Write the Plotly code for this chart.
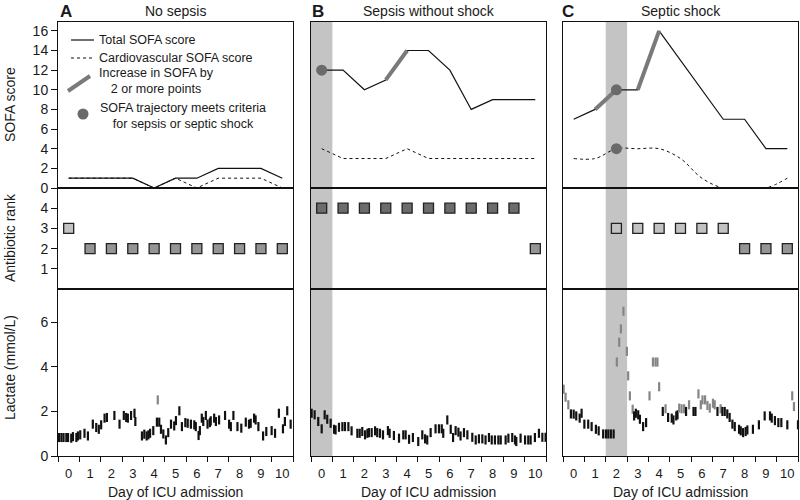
import plotly.graph_objects as go

# ---------------- data ----------------
days = list(range(11))
day_labels = [str(d) for d in days]
panel_titles = ["No sepsis", "Sepsis without shock", "Septic shock"]
panel_letters = ["A", "B", "C"]

sofa_total_A = [1, 1, 1, 1, 0, 1, 1, 2, 2, 2, 1]
sofa_cardio_A = [1, 1, 1, 1, 0, 1, 0, 1, 1, 1, 0]
sofa_total_B = [12, 12, 10, 11, 14, 14, 12, 8, 9, 9, 9]
sofa_cardio_B = [4, 3, 3, 3, 4, 3, 3, 3, 3, 3, 3]
sofa_total_C = [7, 8, 10, 10, 16, 13, 10, 7, 7, 4, 4]
sofa_cardio_C = [3, 3, 4, 4, 4, 3, 1, 0, 0, 0, 1]

increase_A = []
increase_B = [(3, 4)]
increase_C = [(1, 2), (3, 4)]
criteria_days_A = []
criteria_days_B = [0]
criteria_days_C = [2]
criteria_cardio_C = [2]
shade_days = [None, 0, 2]

abx_A = [3, 2, 2, 2, 2, 2, 2, 2, 2, 2, 2]
abx_B = [4, 4, 4, 4, 4, 4, 4, 4, 4, 4, 2]
abx_C = [None, None, 3, 3, 3, 3, 3, 3, 2, 2, 2]

lac_t_A = [0.05, 0.16, 0.26, 0.39, 0.47, 0.62, 0.70, 0.86, 0.93, 1.04, 1.24, 1.40, 1.63, 1.79, 1.91,
           2.02, 2.18, 2.29, 2.64, 2.88, 3.08, 3.19, 3.27, 3.42, 3.58, 3.62, 3.93, 4.04, 4.15, 4.23,
           4.31, 4.46, 4.63, 4.67, 4.74, 4.82, 4.93, 5.05, 5.16, 5.29, 5.44, 5.52, 5.68, 5.80, 5.96,
           6.07, 6.22, 6.38, 6.45, 6.58, 6.64, 6.73, 6.80, 6.92, 7.00, 7.11, 7.15, 7.31, 7.39, 7.54,
           7.82, 8.01, 8.09, 8.21, 8.40, 8.58, 8.79, 8.94, 9.02, 9.18, 9.25, 9.38, 9.60, 9.75, 10.00,
           10.16, 10.34, 10.53, 10.62, 10.73, 10.89]
lac_v_A = [0.83, 0.83, 0.83, 0.83, 0.83, 0.80, 0.87, 0.83, 0.90, 0.95, 1.02, 0.90, 1.43, 1.28, 1.20,
           1.40, 1.70, 1.73, 1.82, 1.43, 1.82, 1.73, 1.70, 1.82, 1.92, 1.55, 0.90, 0.98, 0.90, 0.95,
           1.02, 1.14, 1.52, 2.52, 1.52, 1.20, 0.99, 0.72, 1.05, 1.43, 1.35, 1.59, 2.03, 1.32, 1.50,
           1.47, 1.43, 1.40, 1.32, 0.92, 1.14, 1.70, 1.55, 1.82, 1.43, 1.50, 1.58, 1.70, 1.55, 1.62,
           1.82, 1.43, 1.32, 1.82, 1.32, 1.25, 1.52, 1.43, 1.47, 1.70, 1.62, 1.32, 0.90, 1.10, 1.14,
           1.02, 1.92, 1.22, 1.55, 2.03, 1.43]
lac_gray_A = [0] * 33 + [1] + [0] * 47

lac_t_B = [0.03, 0.17, 0.34, 0.50, 0.64, 0.76, 0.92, 1.08, 1.15, 1.31, 1.47, 1.59, 1.75, 1.90, 2.17,
           2.28, 2.40, 2.53, 2.64, 2.71, 2.84, 3.00, 3.10, 3.23, 3.37, 3.60, 3.68, 3.88, 4.12, 4.32,
           4.43, 4.59, 4.77, 5.02, 5.21, 5.34, 5.44, 5.60, 5.83, 5.99, 6.12, 6.19, 6.38, 6.54, 6.65,
           6.77, 6.90, 7.00, 7.16, 7.32, 7.55, 7.71, 7.86, 8.02, 8.17, 8.33, 8.46, 8.61, 8.77, 8.88,
           9.11, 9.24, 9.42, 9.55, 9.61, 9.81, 10.02, 10.17, 10.28, 10.48, 10.67, 10.83, 10.98]
lac_v_B = [1.92, 1.85, 1.55, 1.22, 1.85, 1.65, 1.47, 1.20, 1.17, 1.29, 1.32, 1.32, 1.32, 1.13, 1.02,
           1.02, 1.10, 0.95, 1.02, 1.05, 1.05, 1.13, 1.05, 1.02, 0.95, 1.14, 1.02, 0.92, 0.80, 0.95,
           0.95, 0.75, 0.83, 0.65, 0.95, 0.77, 0.72, 1.05, 1.22, 1.22, 1.22, 1.02, 1.62, 1.20, 0.83,
           1.14, 1.07, 0.90, 1.05, 0.95, 0.84, 0.72, 0.77, 0.77, 0.72, 0.83, 0.72, 0.72, 0.72, 0.72,
           0.72, 0.80, 0.83, 0.72, 0.65, 0.80, 0.72, 0.72, 0.72, 0.83, 1.02, 0.84, 0.84]
lac_gray_B = [0] * 73

lac_t_C = [0.03, 0.12, 0.25, 0.37, 0.50, 0.62, 0.78, 0.87, 1.00, 1.18, 1.34, 1.54, 1.67, 1.88, 2.01,
           2.12, 2.24, 2.37, 2.52, 2.63, 2.71, 2.83, 2.99, 3.05, 3.13, 3.26, 3.33, 3.41, 3.52, 3.60,
           3.75, 3.89, 4.05, 4.21, 4.33, 4.42, 4.50, 4.67, 4.80, 4.92, 5.09, 5.17, 5.30, 5.36, 5.44,
           5.55, 5.67, 5.76, 5.90, 6.11, 6.20, 6.34, 6.45, 6.53, 6.65, 6.76, 6.87, 7.02, 7.10, 7.23,
           7.38, 7.46, 7.57, 7.69, 7.80, 7.93, 8.04, 8.24, 8.32, 8.43, 8.55, 8.63, 8.89, 9.17, 9.44,
           9.69, 9.77, 9.92, 10.08, 10.22, 10.50, 10.73, 10.81, 11.00]
lac_v_C = [3.00, 2.64, 2.30, 1.89, 1.88, 1.80, 1.70, 1.92, 1.43, 1.43, 1.32, 1.20, 1.13, 0.99, 0.99,
           0.99, 0.99, 0.99, 4.22, 5.11, 5.71, 6.50, 4.70, 3.60, 2.70, 2.10, 1.80, 1.92, 1.85, 1.65,
           1.32, 1.50, 2.70, 4.22, 4.22, 4.22, 3.11, 2.00, 2.12, 1.73, 1.70, 1.62, 1.80, 1.85, 2.15,
           2.12, 2.12, 2.00, 2.30, 2.00, 2.00, 2.79, 2.30, 2.52, 2.52, 2.27, 2.15, 2.37, 2.30, 2.00,
           2.12, 2.00, 2.00, 1.89, 1.73, 1.43, 1.32, 1.20, 1.13, 1.05, 1.10, 1.17, 1.20, 1.40, 1.80,
           1.80, 1.70, 1.59, 1.50, 1.50, 1.40, 2.70, 2.22, 1.40]
lac_gray_C = [1, 1, 1, 0, 0, 0, 0, 0, 0, 0, 0, 0, 0, 0, 0,
              0, 0, 0, 1, 1, 1, 1, 1, 1, 1, 1, 0, 0, 0, 0,
              0, 0, 1, 1, 1, 1, 1, 0, 1, 0, 0, 0, 0, 0, 1,
              1, 1, 0, 1, 0, 0, 1, 1, 1, 1, 1, 1, 1, 1, 0,
              1, 0, 0, 0, 0, 0, 0, 0, 0, 0, 0, 0, 0, 0, 0,
              0, 0, 0, 0, 0, 0, 1, 1, 0]

sofa_ticks = [0, 2, 4, 6, 8, 10, 12, 14, 16]
abx_ticks = [1, 2, 3, 4]
lac_ticks = [0, 2, 4, 6]

# ---------------- styling ----------------
FONT = "Liberation Sans, Arial, sans-serif"
TXT = "#1a1a1a"
W, H = 800, 500
col_px = [(58, 293), (311, 546), (563, 798)]
row_px = [(22, 188), (188, 289), (289, 456)]
GRAY_LINE = "#7a7a7a"
DOT = "#6a6a6a"
ABX_COL = {2: "#959595", 3: "#c2c2c2", 4: "#6c6c6c"}

def px(x):
    return x / W

def py(y):
    return 1 - y / H

fig = go.Figure()

totals = [sofa_total_A, sofa_total_B, sofa_total_C]
cardios = [sofa_cardio_A, sofa_cardio_B, sofa_cardio_C]
increases = [increase_A, increase_B, increase_C]
crit = [criteria_days_A, criteria_days_B, criteria_days_C]
crit_cardio = [[], [], criteria_cardio_C]
abxs = [abx_A, abx_B, abx_C]
lac_t = [lac_t_A, lac_t_B, lac_t_C]
lac_v = [lac_v_A, lac_v_B, lac_v_C]
lac_g = [lac_gray_A, lac_gray_B, lac_gray_C]

xc = [d + 0.5 for d in days]


def ax(i):
    return ("x" if i == 1 else f"x{i}"), ("y" if i == 1 else f"y{i}")


for c in range(3):
    ia = c + 1          # sofa
    ib = c + 4          # antibiotic
    il = c + 7          # lactate
    xa, ya = ax(ia)
    fig.add_trace(go.Scatter(x=xc, y=cardios[c], mode="lines", xaxis=xa, yaxis=ya,
                             line=dict(color="#111", width=1, dash="3px,3px",
                                       shape="spline" if c == 2 else "linear"),
                             hoverinfo="skip", showlegend=False))
    fig.add_trace(go.Scatter(x=xc, y=totals[c], mode="lines", xaxis=xa, yaxis=ya,
                             line=dict(color="#111", width=1.2),
                             hoverinfo="skip", showlegend=False))
    for (d0, d1) in increases[c]:
        fig.add_trace(go.Scatter(x=[d0 + 0.5, d1 + 0.5], y=[totals[c][d0], totals[c][d1]],
                                 mode="lines", xaxis=xa, yaxis=ya,
                                 line=dict(color=GRAY_LINE, width=4),
                                 hoverinfo="skip", showlegend=False))
    pts_x = [d + 0.5 for d in crit[c]] + [d + 0.5 for d in crit_cardio[c]]
    pts_y = [totals[c][d] for d in crit[c]] + [cardios[c][d] for d in crit_cardio[c]]
    if pts_x:
        fig.add_trace(go.Scatter(x=pts_x, y=pts_y, mode="markers", xaxis=xa, yaxis=ya,
                                 marker=dict(color=DOT, size=11, line=dict(width=0)),
                                 cliponaxis=False, hoverinfo="skip", showlegend=False))
    # antibiotics
    xb, yb = ax(ib)
    ax_x = [d + 0.5 for d, r in zip(days, abxs[c]) if r is not None]
    ax_y = [r for r in abxs[c] if r is not None]
    fig.add_trace(go.Scatter(x=ax_x, y=ax_y, mode="markers", xaxis=xb, yaxis=yb,
                             marker=dict(symbol="square", size=10,
                                         color=[ABX_COL[r] for r in ax_y],
                                         line=dict(color="#222", width=1.3)),
                             hoverinfo="skip", showlegend=False))
    # lactate
    xl, yl = ax(il)
    cols = ["#858585" if g else "#111111" for g in lac_g[c]]
    fig.add_trace(go.Scatter(x=lac_t[c], y=lac_v[c], mode="markers", xaxis=xl, yaxis=yl,
                             marker=dict(symbol="line-ns", size=6.5,
                                         line=dict(color=cols, width=2.2)),
                             cliponaxis=False, hoverinfo="skip", showlegend=False))

layout = dict(width=W, height=H, margin=dict(l=0, r=0, t=0, b=0, autoexpand=False),
              template="none",
              paper_bgcolor="white", plot_bgcolor="rgba(0,0,0,0)",
              font=dict(family=FONT, color=TXT, size=13), showlegend=False)

yranges = [[0, 16.9], [0, 5], [0, 7.5]]
yticks = [sofa_ticks, abx_ticks, lac_ticks]
for r in range(3):
    for c in range(3):
        i = r * 3 + c + 1
        xk = "xaxis" if i == 1 else f"xaxis{i}"
        yk = "yaxis" if i == 1 else f"yaxis{i}"
        xd = [px(col_px[c][0]), px(col_px[c][1])]
        yd = [py(row_px[r][1]), py(row_px[r][0])]
        xaxis = dict(domain=xd, range=[0, 11], anchor=("y" if i == 1 else f"y{i}"),
                     showgrid=False, zeroline=False, showline=True, mirror=True,
                     automargin=False,
                     linecolor="#111", linewidth=1, fixedrange=True)
        if r == 2:
            xaxis.update(tickmode="array", tickvals=xc, ticktext=day_labels,
                         ticks="outside", ticklen=5, tickcolor="rgba(0,0,0,0)",
                         tickfont=dict(size=13, color=TXT),
                         minor=dict(tickmode="array", tickvals=list(range(12)),
                                    ticks="outside", ticklen=5, tickcolor="#111", tickwidth=1))
        else:
            xaxis.update(showticklabels=False, ticks="")
        yaxis = dict(domain=yd, range=yranges[r], anchor=("x" if i == 1 else f"x{i}"),
                     showgrid=False, zeroline=False, showline=True, mirror=True,
                     automargin=False,
                     linecolor="#111", linewidth=1, fixedrange=True)
        if c == 0:
            yaxis.update(tickmode="array", tickvals=yticks[r], ticks="outside", ticklen=6,
                         tickcolor="#111", tickfont=dict(size=14, color=TXT))
        else:
            yaxis.update(showticklabels=False, ticks="")
        layout[xk] = xaxis
        layout[yk] = yaxis

shapes = []
for c in range(3):
    d = shade_days[c]
    if d is None:
        continue
    for r in range(3):
        i = r * 3 + c + 1
        shapes.append(dict(type="rect", xref=("x" if i == 1 else f"x{i}"),
                           yref=(("y" if i == 1 else f"y{i}") + " domain"),
                           x0=d, x1=d + 1, y0=0, y1=1, fillcolor="#c4c4c4",
                           line=dict(width=0), layer="below"))

# legend graphics (panel A)
shapes.append(dict(type="line", xref="paper", yref="paper", x0=px(71), x1=px(94),
                   y0=py(40), y1=py(40), line=dict(color="#111", width=1.2)))
shapes.append(dict(type="line", xref="paper", yref="paper", x0=px(71), x1=px(94),
                   y0=py(58), y1=py(58), line=dict(color="#111", width=1, dash="3px,3px")))
shapes.append(dict(type="line", xref="paper", yref="paper", x0=px(68), x1=px(90),
                   y0=py(91), y1=py(76), line=dict(color=GRAY_LINE, width=4)))
shapes.append(dict(type="circle", xref="paper", yref="paper", x0=px(77.5), x1=px(88.5),
                   y0=py(119.5), y1=py(108.5), fillcolor=DOT, line=dict(width=0)))
layout["shapes"] = shapes

ann = []


def text(x, y, s, size=12, xanchor="left", angle=0, bold=False, align="left"):
    ann.append(dict(x=px(x), y=py(y), xref="paper", yref="paper",
                    text=(f"<b>{s}</b>" if bold else s),
                    showarrow=False, xanchor=xanchor, yanchor="middle", textangle=angle,
                    align=align, borderpad=0,
                    font=dict(size=size, color=TXT, family=FONT)))


text(98, 40, "Total SOFA score", size=12.5)
text(98, 58, "Cardiovascular SOFA score", size=12.5)
text(156, 81, "Increase in SOFA by<br>2 or more points", size=12.5, xanchor="center", align="center")
text(183, 116, "SOFA trajectory meets criteria<br>for sepsis or septic shock", size=12.5,
     xanchor="center", align="center")

letter_x = [66, 318, 568]
for c in range(3):
    cx = (col_px[c][0] + col_px[c][1]) / 2
    text(cx, 11, panel_titles[c], size=14, xanchor="center")
    text(letter_x[c], 11, panel_letters[c], size=17, xanchor="center", bold=True)
    text(cx, 492, "Day of ICU admission", size=14, xanchor="center")

text(10, 105, "SOFA score", size=14, xanchor="center", angle=-90)
text(10, 238, "Antibiotic rank", size=14, xanchor="center", angle=-90)
text(10, 368, "Lactate (mmol/L)", size=14, xanchor="center", angle=-90)
layout["annotations"] = ann

fig.update_layout(**layout)
fig.write_html("out.html", config={"displayModeBar": False, "staticPlot": True},
               post_script="document.body.style.margin='0px';document.body.style.overflow='hidden';")
